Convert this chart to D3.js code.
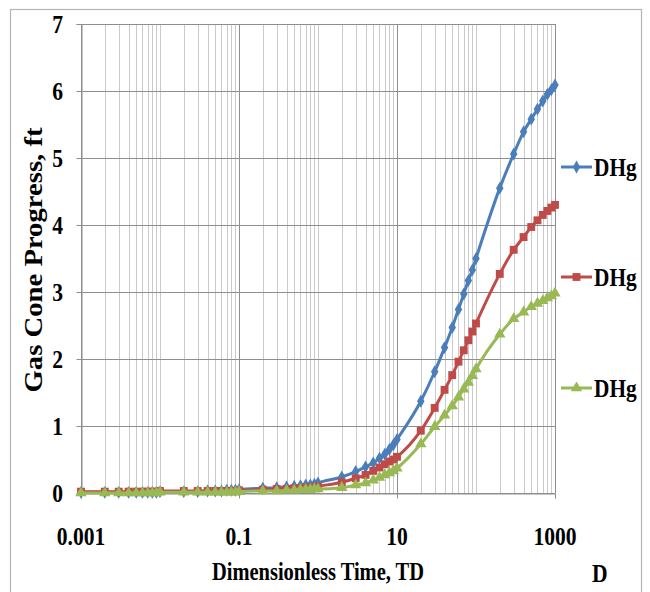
<!DOCTYPE html>
<html>
<head>
<meta charset="utf-8">
<script src="https://cdn.jsdelivr.net/npm/d3@7"></script>
<style>
  html, body { margin: 0; padding: 0; background: #fff; }
  svg { display: block; }
  text { font-family: "Liberation Serif", "Times New Roman", serif; font-weight: bold; fill: #000; }
</style>
</head>
<body>
<svg id="chart" width="650" height="592"></svg>
<script>
// Dimensionless time TD (log axis)
const timeD = [
  0.001, 0.002, 0.003, 0.004, 0.005, 0.006, 0.007, 0.008, 0.009,
  0.01, 0.02, 0.03, 0.04, 0.05, 0.06, 0.07, 0.08, 0.09,
  0.1, 0.2, 0.3, 0.4, 0.5, 0.6, 0.7, 0.8, 0.9,
  1, 2, 3, 4, 5, 6, 7, 8, 9,
  10, 20, 30, 40, 50, 60, 70, 80, 90,
  100, 200, 300, 400, 500, 600, 700, 800, 900,
  1000
];

// Gas cone progress, ft
const dhgBlue = [
  0.01, 0.01, 0.01, 0.01, 0.01, 0.01, 0.01, 0.01, 0.01,
  0.02, 0.02, 0.02, 0.03, 0.03, 0.03, 0.04, 0.04, 0.04,
  0.05, 0.07, 0.08, 0.09, 0.10, 0.11, 0.12, 0.12, 0.13,
  0.15, 0.24, 0.32, 0.39, 0.45, 0.52, 0.58, 0.65, 0.72,
  0.80, 1.37, 1.81, 2.17, 2.47, 2.74, 2.97, 3.17, 3.33,
  3.50, 4.55, 5.06, 5.39, 5.58, 5.73, 5.85, 5.95, 6.02,
  6.09
];
const dhgRed = [
  0.02, 0.02, 0.02, 0.02, 0.02, 0.02, 0.02, 0.02, 0.02,
  0.03, 0.03, 0.03, 0.03, 0.03, 0.03, 0.03, 0.03, 0.03,
  0.04, 0.05, 0.06, 0.06, 0.07, 0.07, 0.08, 0.08, 0.09,
  0.10, 0.16, 0.22, 0.27, 0.33, 0.38, 0.43, 0.47, 0.50,
  0.54, 0.93, 1.27, 1.54, 1.76, 1.96, 2.13, 2.28, 2.41,
  2.53, 3.27, 3.63, 3.82, 3.97, 4.07, 4.15, 4.21, 4.26,
  4.30
];
const dhgGreen = [
  0.00, 0.00, 0.00, 0.00, 0.00, 0.00, 0.00, 0.00, 0.00,
  0.01, 0.01, 0.01, 0.01, 0.01, 0.01, 0.01, 0.01, 0.01,
  0.02, 0.03, 0.03, 0.04, 0.04, 0.05, 0.05, 0.05, 0.06,
  0.06, 0.08, 0.12, 0.15, 0.19, 0.23, 0.27, 0.30, 0.33,
  0.37, 0.73, 0.99, 1.16, 1.30, 1.43, 1.55, 1.65, 1.75,
  1.85, 2.37, 2.60, 2.70, 2.78, 2.83, 2.87, 2.91, 2.94,
  2.98
];

const seriesNames = ["DHg", "DHg", "DHg"];
const xTickLabels = [0.001, 0.1, 10, 1000];
const yTickLabels = [0, 1, 2, 3, 4, 5, 6, 7];

const series = [
  { name: seriesNames[0], values: dhgBlue,  color: "#4A7EBB", marker: d3.symbolDiamond,  size: 48 },
  { name: seriesNames[1], values: dhgRed,   color: "#BE4B48", marker: d3.symbolSquare,   size: 62 },
  { name: seriesNames[2], values: dhgGreen, color: "#98B954", marker: d3.symbolTriangle, size: 56 }
];

const svg = d3.select("#chart");
const plotLeft = 81, plotRight = 555, plotTop = 24, plotBottom = 493;

const x = d3.scaleLog().domain([0.001, 1000]).range([plotLeft, plotRight]);
const y = d3.scaleLinear().domain([0, 7]).range([plotBottom, plotTop]);

// outer chart frame
svg.append("rect")
  .attr("x", 10.5).attr("y", 9.5)
  .attr("width", 631).attr("height", 600)
  .attr("fill", "none").attr("stroke", "#B4B4B4").attr("stroke-width", 1.2);

// vertical gridlines: every 1..9 multiple, darker every two decades
const majorSet = new Set(xTickLabels.map(v => Math.round(Math.log10(v))));
const grid = svg.append("g");
grid.selectAll("line.vx")
  .data(x.ticks())
  .join("line")
  .attr("x1", d => Math.round(x(d)) + 0.5).attr("x2", d => Math.round(x(d)) + 0.5)
  .attr("y1", plotTop).attr("y2", plotBottom)
  .attr("stroke", d => {
    const l = Math.log10(d);
    return (Math.abs(l - Math.round(l)) < 1e-9 && majorSet.has(Math.round(l))) ? "#8E8E8E" : "#CACACA";
  })
  .attr("stroke-width", 1);

// horizontal gridlines
grid.selectAll("line.hy")
  .data(yTickLabels)
  .join("line")
  .attr("x1", plotLeft).attr("x2", plotRight)
  .attr("y1", d => Math.round(y(d)) + 0.5).attr("y2", d => Math.round(y(d)) + 0.5)
  .attr("stroke", "#8E8E8E").attr("stroke-width", 1);

// axes lines and tick marks
const yAxis = d3.axisLeft(y).tickValues(yTickLabels).tickSize(5).tickFormat("");
svg.append("g").attr("transform", `translate(${plotLeft + 0.5},0)`).call(yAxis)
  .call(g => g.selectAll("line, path").attr("stroke", "#8E8E8E"));
const xAxis = d3.axisBottom(x).tickValues(xTickLabels).tickSize(5).tickFormat("");
svg.append("g").attr("transform", `translate(0,${plotBottom + 0.5})`).call(xAxis)
  .call(g => g.selectAll("line, path").attr("stroke", "#8E8E8E"));

// tick labels
const sx = 0.83;
svg.append("g").selectAll("text")
  .data(yTickLabels)
  .join("text")
  .attr("transform", d => `translate(63,${y(d) + 8.5}) scale(${sx},1)`)
  .attr("text-anchor", "end")
  .style("font-size", "26px")
  .text(d => d);

svg.append("g").selectAll("text")
  .data(xTickLabels)
  .join("text")
  .attr("transform", d => `translate(${x(d)},545) scale(${sx},1)`)
  .attr("text-anchor", "middle")
  .style("font-size", "26px")
  .text(d => d3.format("~g")(d));

// axis titles
svg.append("text")
  .attr("x", 318).attr("y", 580)
  .attr("text-anchor", "middle")
  .attr("textLength", 212).attr("lengthAdjust", "spacingAndGlyphs")
  .style("font-size", "26px")
  .text("Dimensionless Time, TD");

svg.append("text")
  .attr("transform", "translate(42,260) rotate(-90)")
  .attr("text-anchor", "middle")
  .attr("textLength", 265).attr("lengthAdjust", "spacingAndGlyphs")
  .style("font-size", "26px")
  .text("Gas Cone Progress, ft");

svg.append("text")
  .attr("transform", `translate(592,582) scale(${sx},1)`)
  .style("font-size", "26px")
  .text("D");

// series lines and markers
const line = d3.line()
  .x(d => x(d[0]))
  .y(d => y(d[1]))
  .curve(d3.curveMonotoneX);

series.forEach(s => {
  const pts = timeD.map((t, i) => [t, s.values[i]]);
  const g = svg.append("g");
  g.append("path")
    .datum(pts)
    .attr("d", line)
    .attr("fill", "none")
    .attr("stroke", s.color)
    .attr("stroke-width", 3)
    .attr("stroke-linejoin", "round");
  g.selectAll("path.m")
    .data(pts)
    .join("path")
    .attr("class", "m")
    .attr("transform", d => `translate(${x(d[0])},${y(d[1])})`)
    .attr("d", d3.symbol().type(s.marker).size(s.size))
    .attr("fill", s.color);
});

// legend
const legendY = [167, 277, 388];
series.forEach((s, i) => {
  const g = svg.append("g").attr("transform", `translate(0,${legendY[i]})`);
  g.append("line")
    .attr("x1", 561).attr("x2", 592)
    .attr("y1", 0).attr("y2", 0)
    .attr("stroke", s.color).attr("stroke-width", 3);
  g.append("path")
    .attr("transform", "translate(576.5,0)")
    .attr("d", d3.symbol().type(s.marker).size(s.size))
    .attr("fill", s.color);
  g.append("text")
    .attr("transform", `translate(594,8.5) scale(0.82,1)`)
    .style("font-size", "26px")
    .text(s.name);
});
</script>
</body>
</html>
